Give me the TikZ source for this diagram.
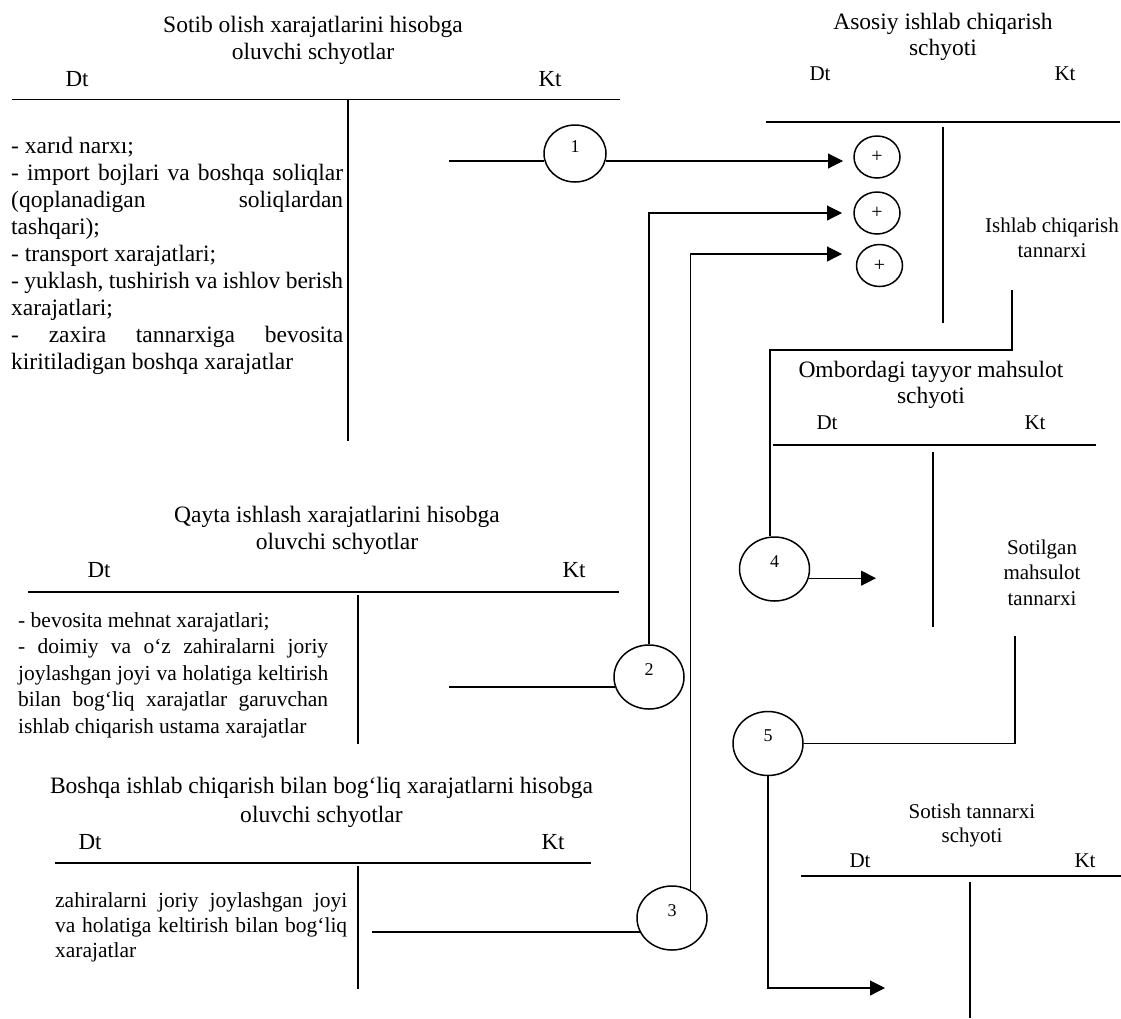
\documentclass[tikz,border=0pt]{standalone}
\usepackage{fontspec}
\setmainfont{Liberation Serif}
\usetikzlibrary{shapes.geometric,arrows.meta}
\newcommand{\jline}[2]{\makebox[#1][s]{#2}}
\begin{document}
\begin{tikzpicture}[x=1pt,y=-1pt,
  tline/.style={line width=1.3pt},
  conn/.style={line width=1.1pt},
  arr/.style={conn,-{Triangle[length=15pt,width=15pt]}},
  bigc/.style={ellipse,draw,line width=1.5pt,inner sep=0pt,minimum width=70pt,minimum height=64pt,
    font=\fontsize{18}{18}\selectfont,text height=12pt,text depth=16pt},
  plusc/.style={ellipse,draw,line width=1.5pt,inner sep=0pt,minimum width=46pt,minimum height=42pt,
    font=\fontsize{20}{20}\selectfont},
  ttl/.style={anchor=base,inner sep=0pt,align=center,font=\fontsize{23.5}{27}\selectfont},
  ttlr/.style={anchor=base,inner sep=0pt,align=center,font=\fontsize{23.5}{26}\selectfont},
  lbl/.style={anchor=base,inner sep=0pt,align=center,font=\fontsize{21}{25}\selectfont},
  dk/.style={anchor=base,inner sep=0pt,font=\fontsize{23}{27}\selectfont},
  dkr/.style={anchor=base,inner sep=0pt,font=\fontsize{21}{25}\selectfont},
  bodyA/.style={anchor=base west,inner sep=0pt,align=left,font=\fontsize{23.5}{27}\selectfont},
  bodyB/.style={anchor=base west,inner sep=0pt,align=left,font=\fontsize{21.5}{26.5}\selectfont},
  bodyC/.style={anchor=base west,inner sep=0pt,align=left,font=\fontsize{21.5}{25}\selectfont}
]
\useasboundingbox (0,0) rectangle (1121,1018);

% (multi-line nodes are placed at the baseline of their last line)

% ---------- Block 1: Sotib olish ----------
\node[ttl] (t1) at (313,59) {Sotib olish xarajatlarini hisobga\\oluvchi schyotlar};
\node[dk] (dt1) at (77,86) {Dt};
\node[dk] (kt1) at (550,86) {Kt};
\draw[tline] (12,99.5) -- (620,99.5);
\draw[tline] (348,100) -- (348,441);
\node[bodyA] (b1) at (11,369) {- xarıd narxı;\\
\jline{332pt}{- import bojlari va boshqa soliqlar}\\
\jline{332pt}{(qoplanadigan soliqlardan}\\
tashqari);\\
- transport xarajatlari;\\
\jline{332pt}{- yuklash, tushirish va ishlov berish}\\
xarajatlari;\\
\jline{332pt}{- zaxira tannarxiga bevosita}\\
kiritiladigan boshqa xarajatlar};

% ---------- Block 2: Qayta ishlash ----------
\node[ttl] (t2) at (337,549) {Qayta ishlash xarajatlarini hisobga\\oluvchi schyotlar};
\node[dk] (dt2) at (99,577) {Dt};
\node[dk] (kt2) at (574,577) {Kt};
\draw[tline] (28,592) -- (619,592);
\draw[tline] (358,595) -- (358,744);
\node[bodyB] (b2) at (18,733) {- bevosita mehnat xarajatlari;\\
\jline{310pt}{- doimiy va o‘z zahiralarni joriy}\\
\jline{310pt}{joylashgan joyi va holatiga keltirish}\\
\jline{310pt}{bilan bog‘liq xarajatlar garuvchan}\\
ishlab chiqarish ustama xarajatlar};

% ---------- Block 3: Boshqa ----------
\node[ttl,font=\fontsize{23.5}{29}\selectfont] (t3) at (321.5,822) {Boshqa ishlab chiqarish bilan bog‘liq xarajatlarni hisobga\\oluvchi schyotlar};
\node[dk] (dt3) at (90,849) {Dt};
\node[dk] (kt3) at (553,849) {Kt};
\draw[tline] (55,863) -- (591,863);
\draw[tline] (358,866) -- (358,989);
\node[bodyC] (b3) at (55,957) {\jline{292pt}{zahiralarni joriy joylashgan joyi}\\
\jline{292pt}{va holatiga keltirish bilan bog‘liq}\\
xarajatlar};

% ---------- Asosiy ishlab chiqarish ----------
\node[ttlr] (t4) at (943,55) {Asosiy ishlab chiqarish\\schyoti};
\node[dkr] (dt4) at (820,80) {Dt};
\node[dkr] (kt4) at (1065,80) {Kt};
\draw[line width=2pt] (766,122) -- (1120,122);
\draw[tline] (943,127) -- (943,323);
\node[lbl] (ic) at (1052,257) {Ishlab chiqarish\\tannarxi};
\node[plusc] (p1) at (877,157) {+};
\node[plusc] (p2) at (877,213) {+};
\node[plusc] (p3) at (879.5,265.5) {+};

% ---------- Ombordagi tayyor mahsulot ----------
\node[ttlr] (t5) at (931,403) {Ombordagi tayyor mahsulot\\schyoti};
\node[dkr] (dt5) at (827,429) {Dt};
\node[dkr] (kt5) at (1035,429) {Kt};
\draw[tline] (773,445) -- (1096,445);
\draw[tline] (933,452) -- (933,627);
\node[lbl,font=\fontsize{21}{25.5}\selectfont] (sm) at (1042,605) {Sotilgan\\mahsulot\\tannarxi};

% ---------- Sotish tannarxi ----------
\node[lbl,font=\fontsize{21}{24}\selectfont] (t6) at (972,842) {Sotish tannarxi\\schyoti};
\node[dkr] (dt6) at (860,867) {Dt};
\node[dkr] (kt6) at (1085,867) {Kt};
\draw[tline] (801,876) -- (1121,876);
\draw[tline] (970,882) -- (970,1018);

% ---------- circles ----------
\node[bigc,minimum width=62pt,minimum height=57pt,text depth=15pt] (c1) at (575,153.5) {1};
\node[bigc] (c2) at (649,677) {2};
\node[bigc] (c3) at (672,918) {3};
\node[bigc] (c4) at (774.5,569) {4};
\node[bigc] (c5) at (768,743.5) {5};

% ---------- connector coordinates ----------
\coordinate (s1) at (449,161);
\coordinate (s2) at (449,687);
\coordinate (s3) at (372,932);
\coordinate (e1) at (843,161);
\coordinate (e2) at (842,213);
\coordinate (e3) at (842,254);
\coordinate (e4) at (876,578);
\coordinate (e5) at (885,988);
\coordinate (k1) at (1012,290);
\coordinate (k1b) at (770,350);
\coordinate (k2) at (1015,636);

% ---------- connectors ----------
\draw[conn] (s1) -- (s1 -| c1.194);
\draw[arr] (c1.346 |- s1) -- (e1);
\draw[conn] (s2) -- (s2 -| c2.197);
\draw[arr] (c2.north) |- (e2);
\draw[conn] (s3) -- (s3 -| c3.204);
\draw[arr] (c3.57) |- (e3);
\draw[conn] (k1) |- (k1b) -- (c4.north -| k1b);
\draw[arr] (c4.345) -- (c4.345 -| e4);
\draw[conn] (k2) |- (c5.east);
\draw[arr] (c5.south) |- (e5);
\end{tikzpicture}
\end{document}
